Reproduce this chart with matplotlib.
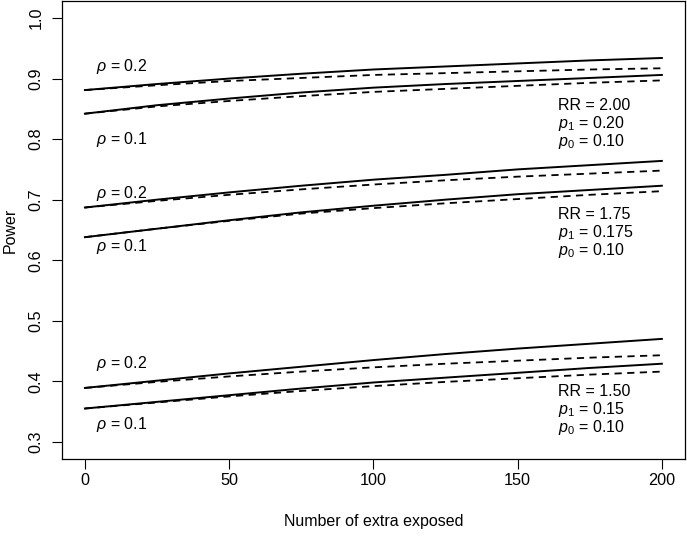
import matplotlib.pyplot as plt

plt.rcParams['font.family'] = ['Liberation Sans', 'DejaVu Sans']
plt.rcParams['mathtext.fontset'] = 'custom'
plt.rcParams['mathtext.rm'] = 'Liberation Sans'
plt.rcParams['mathtext.it'] = 'Liberation Sans:italic'

# number of extra exposed
extra = [0, 25, 50, 75, 100, 125, 150, 175, 200]

# RR = 2.00
rr200_r2_solid = [0.881, 0.891, 0.900, 0.908, 0.915, 0.920, 0.925, 0.930, 0.934]
rr200_r2_dash = [0.881, 0.889, 0.896, 0.901, 0.906, 0.909, 0.912, 0.915, 0.917]
rr200_r1_solid = [0.842, 0.856, 0.867, 0.877, 0.885, 0.891, 0.896, 0.901, 0.906]
rr200_r1_dash = [0.842, 0.854, 0.863, 0.871, 0.878, 0.883, 0.888, 0.893, 0.897]

# RR = 1.75
rr175_r2_solid = [0.687, 0.700, 0.712, 0.723, 0.733, 0.741, 0.750, 0.757, 0.764]
rr175_r2_dash = [0.687, 0.698, 0.708, 0.717, 0.725, 0.732, 0.738, 0.743, 0.748]
rr175_r1_solid = [0.638, 0.652, 0.666, 0.679, 0.690, 0.700, 0.709, 0.716, 0.723]
rr175_r1_dash = [0.638, 0.652, 0.665, 0.677, 0.686, 0.694, 0.701, 0.708, 0.714]

# RR = 1.50
rr150_r2_solid = [0.389, 0.401, 0.413, 0.424, 0.435, 0.445, 0.454, 0.462, 0.470]
rr150_r2_dash = [0.389, 0.399, 0.408, 0.416, 0.423, 0.429, 0.434, 0.439, 0.443]
rr150_r1_solid = [0.355, 0.366, 0.377, 0.388, 0.398, 0.406, 0.414, 0.422, 0.429]
rr150_r1_dash = [0.355, 0.365, 0.375, 0.384, 0.392, 0.399, 0.405, 0.411, 0.416]

rho_labels = [r'$\rho$ = 0.2', r'$\rho$ = 0.1']
rho_label_y = [0.920, 0.799, 0.710, 0.622, 0.429, 0.329]

block_labels = [
    ['RR = 2.00', r'$p_1$ = 0.20', r'$p_0$ = 0.10'],
    ['RR = 1.75', r'$p_1$ = 0.175', r'$p_0$ = 0.10'],
    ['RR = 1.50', r'$p_1$ = 0.15', r'$p_0$ = 0.10'],
]
block_top_y = [0.856, 0.676, 0.383]

fig = plt.figure(figsize=(6.87, 5.41), dpi=100)
ax = fig.add_axes([0.090, 0.152, 0.907, 0.846])

solids = [rr200_r2_solid, rr200_r1_solid, rr175_r2_solid, rr175_r1_solid,
          rr150_r2_solid, rr150_r1_solid]
dashes = [rr200_r2_dash, rr200_r1_dash, rr175_r2_dash, rr175_r1_dash,
          rr150_r2_dash, rr150_r1_dash]

for s in solids:
    ax.plot(extra, s, color='black', lw=1.4)
for d in dashes:
    ax.plot(extra, d, color='black', lw=1.3, dashes=(4, 3))

fs = 11.5
for i, yv in enumerate(rho_label_y):
    ax.text(4, yv, rho_labels[i % 2], fontsize=fs, va='center', ha='left')

for labels, ytop in zip(block_labels, block_top_y):
    for j, lab in enumerate(labels):
        ax.text(164, ytop - j * 0.030, lab, fontsize=fs, va='center', ha='left')

ax.set_xlim(-8, 208)
ax.set_ylim(0.272, 1.028)
ax.set_xticks([0, 50, 100, 150, 200])
ax.set_yticks([0.3, 0.4, 0.5, 0.6, 0.7, 0.8, 0.9, 1.0])
ax.set_yticklabels(['0.3', '0.4', '0.5', '0.6', '0.7', '0.8', '0.9', '1.0'],
                   rotation=90, va='center')
ax.tick_params(direction='out', length=7, width=0.8, labelsize=11.7)
ax.tick_params(axis='x', pad=3)
ax.tick_params(axis='y', pad=6)
for sp in ax.spines.values():
    sp.set_linewidth(0.9)

ax.set_xlabel('Number of extra exposed', fontsize=fs, labelpad=19)
ax.set_ylabel('Power', fontsize=fs, labelpad=8)

fig.savefig('out.png', dpi=100)
